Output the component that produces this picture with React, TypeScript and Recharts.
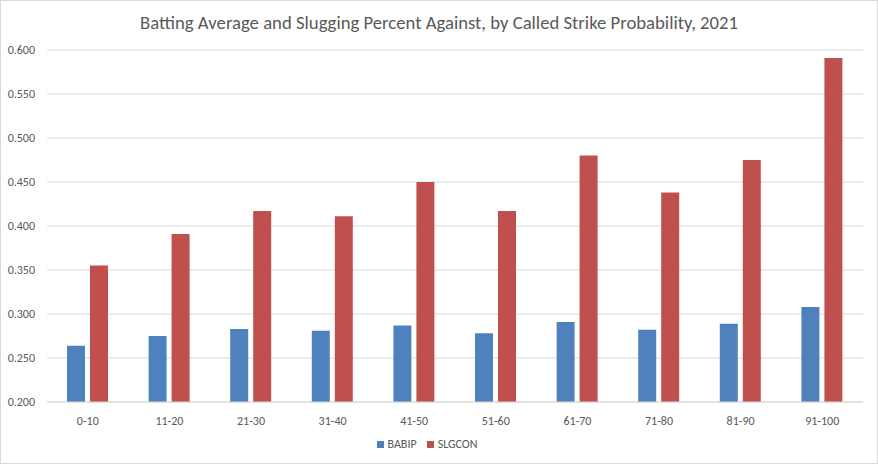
import React from "react";
import { BarChart, Bar, XAxis, YAxis, CartesianGrid, Legend } from "recharts";

const categories = ["0-10", "11-20", "21-30", "31-40", "41-50", "51-60", "61-70", "71-80", "81-90", "91-100"];
const babip = [0.264, 0.275, 0.283, 0.281, 0.287, 0.278, 0.291, 0.282, 0.289, 0.308];
const slgcon = [0.355, 0.391, 0.417, 0.411, 0.450, 0.417, 0.480, 0.438, 0.475, 0.591];
const yTicks = [0.2, 0.25, 0.3, 0.35, 0.4, 0.45, 0.5, 0.55, 0.6];

const data = categories.map((c, i) => ({ range: c, BABIP: babip[i], SLGCON: slgcon[i] }));

const FONT = "Carlito, Calibri, Lato, sans-serif";

export default function App() {
  return (
    <div
      style={{
        position: "relative",
        width: 878,
        height: 464,
        boxSizing: "border-box",
        border: "1px solid #d9d9d9",
        background: "#fff",
        fontFamily: FONT,
      }}
    >
      <style>{`body{margin:0}`}</style>
      <div
        style={{
          position: "absolute",
          top: 10,
          left: 0,
          width: 876,
          textAlign: "center",
          fontSize: 18.7,
          color: "#595959",
          fontWeight: 300,
        }}
      >
        Batting Average and Slugging Percent Against, by Called Strike Probability, 2021
      </div>
      <BarChart
        width={876}
        height={462}
        data={data}
        margin={{ top: 49, right: 14, left: 0, bottom: 11 }}
        barCategoryGap="25%"
        barGap={5}
        style={{ position: "absolute", top: 0, left: 0 }}
      >
        <CartesianGrid vertical={false} stroke="#d9d9d9" />
        <XAxis
          dataKey="range"
          axisLine={{ stroke: "#d9d9d9" }}
          tickLine={false}
          tick={{ fontSize: 12, fill: "#595959", fontFamily: FONT }}
          tickMargin={8}
          height={31}
        />
        <YAxis
          width={46}
          domain={[0.2, 0.6]}
          ticks={yTicks}
          allowDataOverflow
          axisLine={false}
          tickLine={false}
          tickMargin={6}
          tick={{ fontSize: 12, fill: "#595959", fontFamily: FONT }}
          tickFormatter={(v: number) => v.toFixed(3)}
        />
        <Legend
          verticalAlign="bottom"
          align="center"
          iconType="square"
          iconSize={7}
          formatter={(value: string) => <span style={{ color: "#595959", fontSize: 12, fontFamily: FONT }}>{value}</span>}
        />
        <Bar dataKey="BABIP" fill="#4F81BD" barSize={18} isAnimationActive={false} />
        <Bar dataKey="SLGCON" fill="#C0504D" barSize={18} isAnimationActive={false} />
      </BarChart>
    </div>
  );
}
